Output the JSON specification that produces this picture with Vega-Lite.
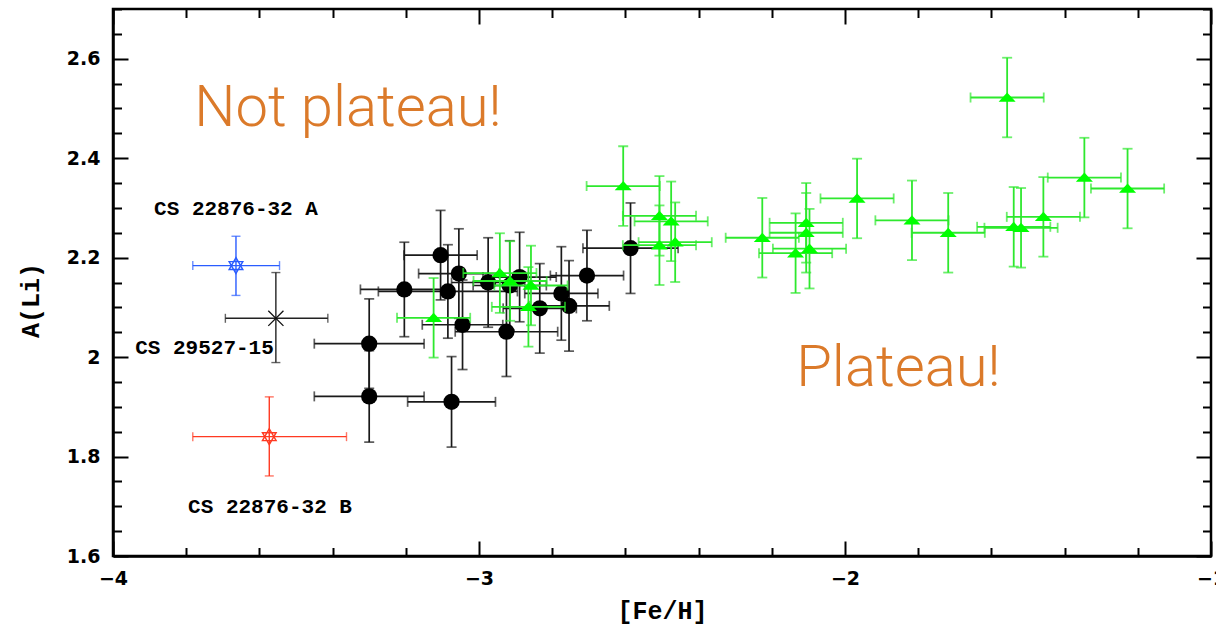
{
  "$schema": "https://vega.github.io/schema/vega-lite/v6.json",
  "width": 1098,
  "height": 547,
  "autosize": "none",
  "padding": {"left": 113, "top": 9, "right": 5, "bottom": 72},
  "background": "white",
  "config": {
    "view": {"stroke": "#000", "strokeWidth": 2.5},
    "axis": {
      "grid": false,
      "labelFlush": false,
      "labelOverlap": false,
      "labelFont": "DejaVu Sans",
      "labelFontWeight": "bold",
      "labelFontSize": 19,
      "labelColor": "#000",
      "titleFont": "Liberation Mono",
      "titleFontWeight": "bold",
      "titleFontSize": 25,
      "titleColor": "#000",
      "tickColor": "#000",
      "tickWidth": 2,
      "domainColor": "#000",
      "domainWidth": 2.5
    }
  },
  "datasets": {
    "notes": [
      {"kind": "big", "text": "Not plateau!", "x": -3.358, "y": 2.464},
      {"kind": "big", "text": "Plateau!", "x": -1.854, "y": 1.942},
      {"kind": "name", "text": "CS 22876-32 A", "x": -3.664, "y": 2.298},
      {"kind": "name", "text": "CS 29527-15", "x": -3.750, "y": 2.019},
      {"kind": "name", "text": "CS 22876-32 B", "x": -3.571, "y": 1.698}
    ],
    "pts": [
      {"group": "black", "x": -3.300, "y": 2.027, "xlo": -3.450, "xhi": -3.150, "ylo": 1.937, "yhi": 2.117},
      {"group": "black", "x": -3.300, "y": 1.921, "xlo": -3.450, "xhi": -3.150, "ylo": 1.829, "yhi": 2.013},
      {"group": "black", "x": -3.204, "y": 2.136, "xlo": -3.324, "xhi": -3.084, "ylo": 2.041, "yhi": 2.231},
      {"group": "black", "x": -3.105, "y": 2.205, "xlo": -3.205, "xhi": -3.005, "ylo": 2.115, "yhi": 2.295},
      {"group": "black", "x": -3.085, "y": 2.132, "xlo": -3.275, "xhi": -2.895, "ylo": 2.038, "yhi": 2.226},
      {"group": "black", "x": -3.055, "y": 2.168, "xlo": -3.165, "xhi": -2.945, "ylo": 2.078, "yhi": 2.258},
      {"group": "black", "x": -3.045, "y": 2.065, "xlo": -3.155, "xhi": -2.935, "ylo": 1.975, "yhi": 2.155},
      {"group": "black", "x": -3.075, "y": 1.910, "xlo": -3.195, "xhi": -2.955, "ylo": 1.819, "yhi": 2.001},
      {"group": "black", "x": -2.975, "y": 2.150, "xlo": -3.075, "xhi": -2.875, "ylo": 2.060, "yhi": 2.240},
      {"group": "black", "x": -2.925, "y": 2.051, "xlo": -3.065, "xhi": -2.785, "ylo": 1.961, "yhi": 2.141},
      {"group": "black", "x": -2.916, "y": 2.144, "xlo": -3.016, "xhi": -2.816, "ylo": 2.054, "yhi": 2.234},
      {"group": "black", "x": -2.889, "y": 2.161, "xlo": -2.989, "xhi": -2.789, "ylo": 2.071, "yhi": 2.251},
      {"group": "black", "x": -2.834, "y": 2.098, "xlo": -2.934, "xhi": -2.734, "ylo": 2.008, "yhi": 2.188},
      {"group": "black", "x": -2.775, "y": 2.128, "xlo": -2.875, "xhi": -2.675, "ylo": 2.034, "yhi": 2.222},
      {"group": "black", "x": -2.754, "y": 2.103, "xlo": -2.864, "xhi": -2.644, "ylo": 2.012, "yhi": 2.194},
      {"group": "black", "x": -2.705, "y": 2.164, "xlo": -2.805, "xhi": -2.605, "ylo": 2.073, "yhi": 2.255},
      {"group": "black", "x": -2.586, "y": 2.219, "xlo": -2.716, "xhi": -2.456, "ylo": 2.128, "yhi": 2.310},
      {"group": "green", "x": -3.124, "y": 2.079, "xlo": -3.224, "xhi": -3.024, "ylo": 1.999, "yhi": 2.159},
      {"group": "green", "x": -2.943, "y": 2.169, "xlo": -3.043, "xhi": -2.843, "ylo": 2.089, "yhi": 2.249},
      {"group": "green", "x": -2.915, "y": 2.153, "xlo": -3.015, "xhi": -2.815, "ylo": 2.073, "yhi": 2.233},
      {"group": "green", "x": -2.858, "y": 2.144, "xlo": -2.958, "xhi": -2.758, "ylo": 2.064, "yhi": 2.224},
      {"group": "green", "x": -2.865, "y": 2.101, "xlo": -2.965, "xhi": -2.765, "ylo": 2.021, "yhi": 2.181},
      {"group": "green", "x": -2.606, "y": 2.344, "xlo": -2.706, "xhi": -2.506, "ylo": 2.264, "yhi": 2.424},
      {"group": "green", "x": -2.507, "y": 2.284, "xlo": -2.607, "xhi": -2.407, "ylo": 2.204, "yhi": 2.364},
      {"group": "green", "x": -2.475, "y": 2.273, "xlo": -2.575, "xhi": -2.375, "ylo": 2.193, "yhi": 2.353},
      {"group": "green", "x": -2.507, "y": 2.225, "xlo": -2.607, "xhi": -2.407, "ylo": 2.145, "yhi": 2.305},
      {"group": "green", "x": -2.464, "y": 2.231, "xlo": -2.564, "xhi": -2.364, "ylo": 2.151, "yhi": 2.311},
      {"group": "green", "x": -2.226, "y": 2.240, "xlo": -2.326, "xhi": -2.126, "ylo": 2.160, "yhi": 2.320},
      {"group": "green", "x": -2.106, "y": 2.270, "xlo": -2.206, "xhi": -2.006, "ylo": 2.190, "yhi": 2.350},
      {"group": "green", "x": -2.106, "y": 2.250, "xlo": -2.206, "xhi": -2.006, "ylo": 2.170, "yhi": 2.330},
      {"group": "green", "x": -2.135, "y": 2.209, "xlo": -2.235, "xhi": -2.035, "ylo": 2.129, "yhi": 2.289},
      {"group": "green", "x": -2.097, "y": 2.218, "xlo": -2.197, "xhi": -1.997, "ylo": 2.138, "yhi": 2.298},
      {"group": "green", "x": -1.967, "y": 2.319, "xlo": -2.067, "xhi": -1.867, "ylo": 2.239, "yhi": 2.399},
      {"group": "green", "x": -1.817, "y": 2.275, "xlo": -1.917, "xhi": -1.717, "ylo": 2.195, "yhi": 2.355},
      {"group": "green", "x": -1.718, "y": 2.250, "xlo": -1.818, "xhi": -1.618, "ylo": 2.170, "yhi": 2.330},
      {"group": "green", "x": -1.557, "y": 2.522, "xlo": -1.657, "xhi": -1.457, "ylo": 2.442, "yhi": 2.602},
      {"group": "green", "x": -1.539, "y": 2.262, "xlo": -1.639, "xhi": -1.439, "ylo": 2.182, "yhi": 2.342},
      {"group": "green", "x": -1.519, "y": 2.260, "xlo": -1.619, "xhi": -1.419, "ylo": 2.180, "yhi": 2.340},
      {"group": "green", "x": -1.458, "y": 2.282, "xlo": -1.558, "xhi": -1.358, "ylo": 2.202, "yhi": 2.362},
      {"group": "green", "x": -1.346, "y": 2.361, "xlo": -1.446, "xhi": -1.246, "ylo": 2.281, "yhi": 2.441},
      {"group": "green", "x": -1.228, "y": 2.339, "xlo": -1.328, "xhi": -1.128, "ylo": 2.259, "yhi": 2.419},
      {"group": "blue", "x": -3.664, "y": 2.184, "xlo": -3.782, "xhi": -3.545, "ylo": 2.124, "yhi": 2.243},
      {"group": "red", "x": -3.573, "y": 1.840, "xlo": -3.782, "xhi": -3.362, "ylo": 1.761, "yhi": 1.920},
      {"group": "cross", "x": -3.555, "y": 2.078, "xlo": -3.693, "xhi": -3.413, "ylo": 1.989, "yhi": 2.170}
    ]
  },
  "resolve": {"axis": {"x": "independent", "y": "independent"}},
  "layer": [
    {
      "data": {"name": "notes"},
      "transform": [{"filter": "datum.kind === 'big'"}],
      "mark": {"type": "text", "font": "Roboto", "fontWeight": 300, "fontSize": 58, "color": "#DB7A2A", "align": "center", "baseline": "alphabetic"},
      "encoding": {
        "x": {
          "field": "x", "type": "quantitative",
          "scale": {"domain": [-4, -1], "nice": false, "zero": false},
          "axis": {
            "orient": "bottom", "title": "[Fe/H]", "format": "~g",
            "values": [-4, -3.8, -3.6, -3.4, -3.2, -3, -2.8, -2.6, -2.4, -2.2, -2, -1.8, -1.6, -1.4, -1.2, -1],
            "labelExpr": "abs(datum.value - round(datum.value)) < 0.001 ? datum.label : ''",
            "tickSize": {"condition": {"test": "abs(datum.value - round(datum.value)) < 0.001", "value": -15}, "value": -8.5},
            "labelPadding": 28,
            "titleY": 54, "titleBaseline": "middle"
          }
        },
        "y": {
          "field": "y", "type": "quantitative",
          "scale": {"domain": [1.6, 2.7], "nice": false, "zero": false},
          "axis": {
            "orient": "left", "title": "A(Li)", "format": "~g",
            "values": [1.6, 1.65, 1.7, 1.75, 1.8, 1.85, 1.9, 1.95, 2, 2.05, 2.1, 2.15, 2.2, 2.25, 2.3, 2.35, 2.4, 2.45, 2.5, 2.55, 2.6, 2.65, 2.7],
            "labelExpr": "abs(datum.value * 5 - round(datum.value * 5)) < 0.001 ? datum.label : ''",
            "tickSize": {"condition": {"test": "abs(datum.value * 5 - round(datum.value * 5)) < 0.001", "value": -15}, "value": -8.5},
            "labelPadding": 28,
            "titleX": -83, "titleY": 291, "titleBaseline": "middle", "titleAngle": 270
          }
        },
        "text": {"field": "text"}
      }
    },
    {
      "data": {"name": "notes"},
      "transform": [{"filter": "datum.kind === 'name'"}],
      "mark": {"type": "text", "font": "Liberation Mono", "fontWeight": "bold", "fontSize": 21, "color": "#000", "align": "center", "baseline": "middle"},
      "encoding": {
        "x": {
          "field": "x", "type": "quantitative",
          "scale": {"domain": [-4, -1], "nice": false, "zero": false},
          "axis": {
            "orient": "top", "title": null, "labels": false, "domain": false,
            "values": [-4, -3.8, -3.6, -3.4, -3.2, -3, -2.8, -2.6, -2.4, -2.2, -2, -1.8, -1.6, -1.4, -1.2, -1],
            "tickSize": {"condition": {"test": "abs(datum.value - round(datum.value)) < 0.001", "value": -15}, "value": -8.5}
          }
        },
        "y": {
          "field": "y", "type": "quantitative",
          "scale": {"domain": [1.6, 2.7], "nice": false, "zero": false},
          "axis": {
            "orient": "right", "title": null, "labels": false, "domain": false,
            "values": [1.6, 1.65, 1.7, 1.75, 1.8, 1.85, 1.9, 1.95, 2, 2.05, 2.1, 2.15, 2.2, 2.25, 2.3, 2.35, 2.4, 2.45, 2.5, 2.55, 2.6, 2.65, 2.7],
            "tickSize": {"condition": {"test": "abs(datum.value * 5 - round(datum.value * 5)) < 0.001", "value": -15}, "value": -8.5}
          }
        },
        "text": {"field": "text"}
      }
    },
    {
      "data": {"name": "pts"},
      "transform": [{"filter": "datum.group === 'black'"}],
      "layer": [
        {
          "mark": {"type": "rule", "color": "#1a1a1a", "strokeWidth": 1.7},
          "encoding": {
            "x": {"field": "xlo", "type": "quantitative", "scale": {"domain": [-4, -1], "nice": false, "zero": false}, "axis": null},
            "x2": {"field": "xhi"},
            "y": {"field": "y", "type": "quantitative", "scale": {"domain": [1.6, 2.7], "nice": false, "zero": false}, "axis": null}
          }
        },
        {
          "mark": {"type": "rule", "color": "#1a1a1a", "strokeWidth": 1.7},
          "encoding": {
            "x": {"field": "x", "type": "quantitative", "scale": {"domain": [-4, -1], "nice": false, "zero": false}, "axis": null},
            "y": {"field": "ylo", "type": "quantitative", "scale": {"domain": [1.6, 2.7], "nice": false, "zero": false}, "axis": null},
            "y2": {"field": "yhi"}
          }
        },
        {
          "transform": [{"fold": ["xlo", "xhi"], "as": ["end", "xc"]}],
          "mark": {"type": "tick", "orient": "vertical", "color": "#1a1a1a", "size": 10, "thickness": 1.7},
          "encoding": {
            "x": {"field": "xc", "type": "quantitative", "scale": {"domain": [-4, -1], "nice": false, "zero": false}, "axis": null},
            "y": {"field": "y", "type": "quantitative", "scale": {"domain": [1.6, 2.7], "nice": false, "zero": false}, "axis": null}
          }
        },
        {
          "transform": [{"fold": ["ylo", "yhi"], "as": ["end", "yc"]}],
          "mark": {"type": "tick", "orient": "horizontal", "color": "#1a1a1a", "size": 10, "thickness": 1.7},
          "encoding": {
            "x": {"field": "x", "type": "quantitative", "scale": {"domain": [-4, -1], "nice": false, "zero": false}, "axis": null},
            "y": {"field": "yc", "type": "quantitative", "scale": {"domain": [1.6, 2.7], "nice": false, "zero": false}, "axis": null}
          }
        },
        {
          "mark": {"type": "point", "shape": "circle", "filled": true, "color": "#000", "opacity": 1, "size": 265},
          "encoding": {
            "x": {"field": "x", "type": "quantitative", "scale": {"domain": [-4, -1], "nice": false, "zero": false}, "axis": null},
            "y": {"field": "y", "type": "quantitative", "scale": {"domain": [1.6, 2.7], "nice": false, "zero": false}, "axis": null}
          }
        }
      ]
    },
    {
      "data": {"name": "pts"},
      "transform": [{"filter": "datum.group === 'green'"}],
      "layer": [
        {
          "mark": {"type": "rule", "color": "#2ee82e", "strokeWidth": 1.8},
          "encoding": {
            "x": {"field": "xlo", "type": "quantitative", "scale": {"domain": [-4, -1], "nice": false, "zero": false}, "axis": null},
            "x2": {"field": "xhi"},
            "y": {"field": "y", "type": "quantitative", "scale": {"domain": [1.6, 2.7], "nice": false, "zero": false}, "axis": null}
          }
        },
        {
          "mark": {"type": "rule", "color": "#2ee82e", "strokeWidth": 1.8},
          "encoding": {
            "x": {"field": "x", "type": "quantitative", "scale": {"domain": [-4, -1], "nice": false, "zero": false}, "axis": null},
            "y": {"field": "ylo", "type": "quantitative", "scale": {"domain": [1.6, 2.7], "nice": false, "zero": false}, "axis": null},
            "y2": {"field": "yhi"}
          }
        },
        {
          "transform": [{"fold": ["xlo", "xhi"], "as": ["end", "xc"]}],
          "mark": {"type": "tick", "orient": "vertical", "color": "#2ee82e", "size": 10, "thickness": 1.8},
          "encoding": {
            "x": {"field": "xc", "type": "quantitative", "scale": {"domain": [-4, -1], "nice": false, "zero": false}, "axis": null},
            "y": {"field": "y", "type": "quantitative", "scale": {"domain": [1.6, 2.7], "nice": false, "zero": false}, "axis": null}
          }
        },
        {
          "transform": [{"fold": ["ylo", "yhi"], "as": ["end", "yc"]}],
          "mark": {"type": "tick", "orient": "horizontal", "color": "#2ee82e", "size": 10, "thickness": 1.8},
          "encoding": {
            "x": {"field": "x", "type": "quantitative", "scale": {"domain": [-4, -1], "nice": false, "zero": false}, "axis": null},
            "y": {"field": "yc", "type": "quantitative", "scale": {"domain": [1.6, 2.7], "nice": false, "zero": false}, "axis": null}
          }
        },
        {
          "mark": {"type": "point", "shape": "M-1,0.5L1,0.5L0,-0.6Z", "filled": true, "color": "#00ff00", "opacity": 1, "size": 290},
          "encoding": {
            "x": {"field": "x", "type": "quantitative", "scale": {"domain": [-4, -1], "nice": false, "zero": false}, "axis": null},
            "y": {"field": "y", "type": "quantitative", "scale": {"domain": [1.6, 2.7], "nice": false, "zero": false}, "axis": null}
          }
        }
      ]
    },
    {
      "data": {"name": "pts"},
      "transform": [{"filter": "datum.group === 'blue' || datum.group === 'red' || datum.group === 'cross'"}],
      "layer": [
        {
          "mark": {"type": "rule", "strokeWidth": 1.4},
          "encoding": {
            "x": {"field": "xlo", "type": "quantitative", "scale": {"domain": [-4, -1], "nice": false, "zero": false}, "axis": null},
            "x2": {"field": "xhi"},
            "y": {"field": "y", "type": "quantitative", "scale": {"domain": [1.6, 2.7], "nice": false, "zero": false}, "axis": null},
            "color": {"field": "group", "type": "nominal", "scale": {"domain": ["blue", "red", "cross"], "range": ["#2a5cff", "#ff3a22", "#222222"]}, "legend": null}
          }
        },
        {
          "mark": {"type": "rule", "strokeWidth": 1.4},
          "encoding": {
            "x": {"field": "x", "type": "quantitative", "scale": {"domain": [-4, -1], "nice": false, "zero": false}, "axis": null},
            "y": {"field": "ylo", "type": "quantitative", "scale": {"domain": [1.6, 2.7], "nice": false, "zero": false}, "axis": null},
            "y2": {"field": "yhi"},
            "color": {"field": "group", "type": "nominal", "scale": {"domain": ["blue", "red", "cross"], "range": ["#2a5cff", "#ff3a22", "#222222"]}, "legend": null}
          }
        },
        {
          "transform": [{"fold": ["xlo", "xhi"], "as": ["end", "xc"]}],
          "mark": {"type": "tick", "orient": "vertical", "size": 9, "thickness": 1.4},
          "encoding": {
            "x": {"field": "xc", "type": "quantitative", "scale": {"domain": [-4, -1], "nice": false, "zero": false}, "axis": null},
            "y": {"field": "y", "type": "quantitative", "scale": {"domain": [1.6, 2.7], "nice": false, "zero": false}, "axis": null},
            "color": {"field": "group", "type": "nominal", "scale": {"domain": ["blue", "red", "cross"], "range": ["#2a5cff", "#ff3a22", "#222222"]}, "legend": null}
          }
        },
        {
          "transform": [{"fold": ["ylo", "yhi"], "as": ["end", "yc"]}],
          "mark": {"type": "tick", "orient": "horizontal", "size": 9, "thickness": 1.4},
          "encoding": {
            "x": {"field": "x", "type": "quantitative", "scale": {"domain": [-4, -1], "nice": false, "zero": false}, "axis": null},
            "y": {"field": "yc", "type": "quantitative", "scale": {"domain": [1.6, 2.7], "nice": false, "zero": false}, "axis": null},
            "color": {"field": "group", "type": "nominal", "scale": {"domain": ["blue", "red", "cross"], "range": ["#2a5cff", "#ff3a22", "#222222"]}, "legend": null}
          }
        },
        {
          "transform": [{"filter": "datum.group !== 'cross'"}],
          "mark": {"type": "point", "shape": "M0,-1L0.866,0.5L-0.866,0.5Z M0,1L0.866,-0.5L-0.866,-0.5Z", "filled": false, "opacity": 1, "strokeWidth": 1.4, "size": 250},
          "encoding": {
            "x": {"field": "x", "type": "quantitative", "scale": {"domain": [-4, -1], "nice": false, "zero": false}, "axis": null},
            "y": {"field": "y", "type": "quantitative", "scale": {"domain": [1.6, 2.7], "nice": false, "zero": false}, "axis": null},
            "color": {"field": "group", "type": "nominal", "scale": {"domain": ["blue", "red", "cross"], "range": ["#2a5cff", "#ff3a22", "#222222"]}, "legend": null}
          }
        },
        {
          "transform": [{"filter": "datum.group === 'cross'"}],
          "mark": {"type": "point", "shape": "M-1,-1L1,1M-1,1L1,-1", "filled": false, "color": "#111", "opacity": 1, "strokeWidth": 1.3, "size": 230},
          "encoding": {
            "x": {"field": "x", "type": "quantitative", "scale": {"domain": [-4, -1], "nice": false, "zero": false}, "axis": null},
            "y": {"field": "y", "type": "quantitative", "scale": {"domain": [1.6, 2.7], "nice": false, "zero": false}, "axis": null}
          }
        }
      ]
    }
  ]
}
